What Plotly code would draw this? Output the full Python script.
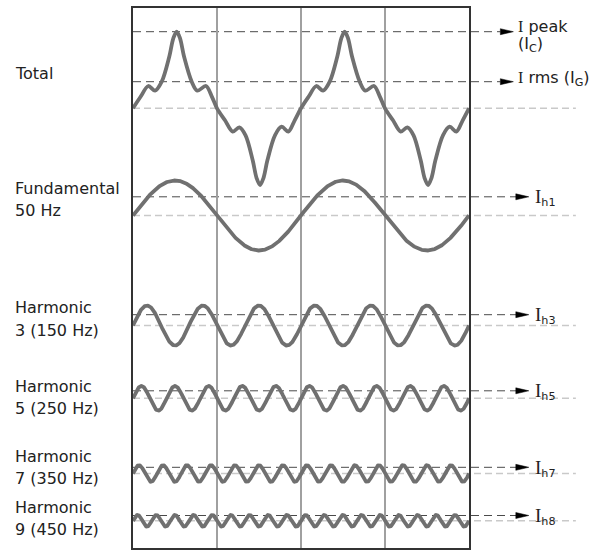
import numpy as np
import plotly.graph_objects as go

# ---------------- data ----------------
t_range = [0.0, 40.0]          # ms, two cycles of 50 Hz
y_range = [0.0, 540.0]         # diagram units (stacked waveforms)
grid_times = [10, 20, 30]      # ms

# Total current: one cycle, read point by point (ms, value above its baseline)
total_t_cycle = [0.0, 0.9, 1.82, 2.62, 3.42, 4.3, 4.8, 5.2, 5.6, 6.1, 6.99, 7.65, 8.69, 9.4, 10.0,
                 10.95, 11.87, 12.65, 13.4, 14.25, 14.72, 15.12, 15.52, 16.0, 16.9, 17.7, 18.49, 19.25, 20.0]
total_v_cycle = [0.0, 11.5, 22.3, 17.6, 26.6, 51.0, 70.0, 76.6, 70.0, 51.0, 26.6, 17.6, 22.3, 11.5, 0.0,
                 -12.0, -23.4, -19.0, -27.0, -52.0, -70.0, -76.7, -70.0, -52.0, -27.0, -18.4, -23.4, -12.0, 0.0]
total_base = 439.7
total_peak_level = 76.6
total_rms_level = 26.6

harmonic_orders = [1, 3, 5, 7, 9]
harmonic_freqs_hz = [50, 150, 250, 350, 450]
harmonic_amps = [35.0, 20.0, 12.3, 8.3, 5.8]
harmonic_base = [332.5, 222.5, 149.7, 74.5, 27.2]
harmonic_level = [18.7, 10.8, 7.5, 6.2, 5.3]      # I_h dashed level above baseline
harmonic_tags = ["h1", "h3", "h5", "h7", "h8"]

left_label_text = ["Total", "Fundamental", "50 Hz", "Harmonic", "3 (150 Hz)",
                   "Harmonic", "5 (250 Hz)", "Harmonic", "7 (350 Hz)",
                   "Harmonic", "9 (450 Hz)"]
left_label_y = [475, 360, 338, 240.5, 218, 162, 140, 92, 70, 40.5, 18.5]

# ---------------- styling ----------------
WAVE = "#707070"
DARK = "#4a4a4a"
LIGHT = "#c9c9c9"
SANS = "DejaVu Sans"
SERIF = "Liberation Serif"

fig = go.Figure()

# total waveform (two identical cycles)
total_t = total_t_cycle + [v + 20.0 for v in total_t_cycle[1:]]
total_v = total_v_cycle + total_v_cycle[1:]
fig.add_trace(go.Scatter(
    x=total_t, y=[total_base + v for v in total_v], mode="lines",
    line=dict(color=WAVE, width=3.8, shape="spline", smoothing=0.9),
    hoverinfo="skip", showlegend=False))

# harmonic components
tt = np.linspace(t_range[0], t_range[1], 1200)
for f, a, b in zip(harmonic_freqs_hz, harmonic_amps, harmonic_base):
    yy = b + a * np.sin(2 * np.pi * f * tt / 1000.0)
    fig.add_trace(go.Scatter(x=tt, y=yy, mode="lines",
                             line=dict(color=WAVE, width=3.8),
                             hoverinfo="skip", showlegend=False))


def ypap(y):
    return (y - y_range[0]) / (y_range[1] - y_range[0])


PX_X = 1.0 / 336.0
PX_Y = 1.0 / 540.0

shapes = []


def dashed(y, x1, color, width, dash):
    shapes.append(dict(type="line", xref="paper", yref="paper", x0=0, x1=x1,
                       y0=ypap(y), y1=ypap(y), layer="below",
                       line=dict(color=color, width=width, dash=dash)))


def arrow(y, tip):
    yp = ypap(y)
    x0 = tip - 13 * PX_X
    shapes.append(dict(type="path", xref="paper", yref="paper", layer="above",
                       path=f"M {x0},{yp + 3 * PX_Y} L {tip},{yp} L {x0},{yp - 3 * PX_Y} Z",
                       fillcolor="#000000", line=dict(color="#000000", width=0.5)))


# total lines
dashed(total_base, 1.318, LIGHT, 1.5, "7px,4px")
dashed(total_base + total_peak_level, 1.093, DARK, 1, "8px,5px")
dashed(total_base + total_rms_level, 1.093, DARK, 1, "8px,5px")
arrow(total_base + total_peak_level, 1.132)
arrow(total_base + total_rms_level, 1.132)

for b, lv in zip(harmonic_base, harmonic_level):
    dashed(b, 1.318, LIGHT, 1.5, "7px,4px")
    dashed(b + lv, 1.14, DARK, 1, "8px,5px")
    arrow(b + lv, 1.178)

annotations = []
for txt, y in zip(left_label_text, left_label_y):
    annotations.append(dict(xref="paper", yref="y", x=-0.356, y=y, text=txt,
                            xanchor="left", yanchor="middle", showarrow=False,
                            font=dict(family=SANS, size=16, color="#222222")))

serif_I = f'<span style="font-family:{SERIF}">I</span>'
annotations.append(dict(xref="paper", yref="y", x=1.14, y=total_base + total_peak_level + 5,
                        text=f"{serif_I} peak", xanchor="left", yanchor="middle",
                        showarrow=False, font=dict(family=SANS, size=16, color="#222222")))
annotations.append(dict(xref="paper", yref="y", x=1.14, y=total_base + total_peak_level - 13,
                        text="(I<sub>C</sub>)", xanchor="left", yanchor="middle",
                        showarrow=False, font=dict(family=SANS, size=16, color="#222222")))
annotations.append(dict(xref="paper", yref="y", x=1.14, y=total_base + total_rms_level + 3,
                        text=f"{serif_I} rms (I<sub>G</sub>)", xanchor="left", yanchor="middle",
                        showarrow=False, font=dict(family=SANS, size=16, color="#222222")))
for b, lv, tag in zip(harmonic_base, harmonic_level, harmonic_tags):
    annotations.append(dict(xref="paper", yref="y", x=1.19, y=b + lv - 1,
                            text=f'<span style="font-family:{SERIF};font-size:19px">I</span><sub>{tag}</sub>',
                            xanchor="left", yanchor="middle", showarrow=False,
                            font=dict(family=SANS, size=16, color="#222222")))

fig.update_layout(
    width=594, height=552, autosize=False,
    margin=dict(l=133, r=125, t=8, b=4, pad=0),
    paper_bgcolor="white", plot_bgcolor="rgba(0,0,0,0)",
    shapes=shapes, annotations=annotations, showlegend=False,
    xaxis=dict(range=t_range, tickvals=grid_times, showticklabels=False, ticks="",
               showgrid=True, gridcolor="#a0a0a0", gridwidth=1.5, zeroline=False,
               showline=True, mirror=True, linecolor="#333333", linewidth=2,
               fixedrange=True),
    yaxis=dict(range=y_range, showticklabels=False, ticks="", showgrid=False,
               zeroline=False, showline=True, mirror=True, linecolor="#333333",
               linewidth=2, fixedrange=True),
)

fig.write_html("out.html", config={"displayModeBar": False},
               post_script="document.body.style.margin='0';document.body.style.overflow='hidden';")
